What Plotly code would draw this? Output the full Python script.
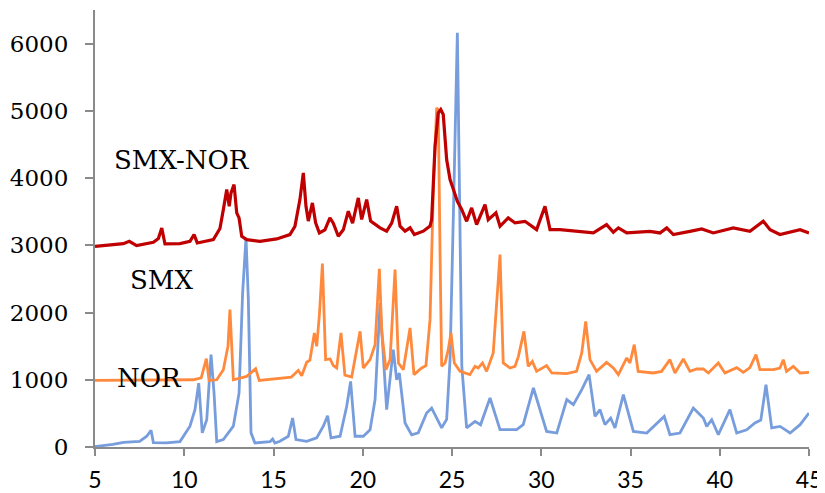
import plotly.graph_objects as go

# ---- data (2-theta, intensity) ----
nor_x = [5.0, 5.1, 6.0, 6.6, 7.5, 7.9, 8.14, 8.27, 9.0, 9.76, 10.32, 10.6, 10.81, 11.01, 11.26, 11.5,
         11.67, 11.82, 12.19, 12.75, 13.07, 13.27, 13.46, 13.59, 13.74, 13.96, 14.8, 14.95, 15.08,
         15.36, 15.83, 16.07, 16.26, 16.86, 17.42, 17.79, 18.03, 18.22, 18.73, 19.1, 19.32, 19.57,
         20.03, 20.41, 20.69, 20.97, 21.34, 21.53, 21.71, 21.9, 22.05, 22.37, 22.74, 23.11, 23.58,
         23.86, 24.14, 24.42, 24.7, 24.89, 25.08, 25.3, 25.55, 25.82, 26.29, 26.6, 27.13, 27.69,
         28.62, 28.99, 29.56, 30.3, 30.87, 31.43, 31.8, 32.27, 32.68, 33.01, 33.29, 33.57, 33.89,
         34.13, 34.6, 35.16, 35.91, 36.47, 36.89, 37.21, 37.77, 38.52, 39.08, 39.27, 39.55, 39.92,
         40.57, 40.95, 41.51, 41.97, 42.3, 42.59, 42.91, 43.38, 43.94, 44.5, 45.0]
nor_y = [10, 10, 40, 70, 85, 160, 250, 65, 60, 80, 310, 555, 950, 210, 405, 1373,
         800, 80, 110, 310, 800, 2290, 3110, 2200, 210, 60, 80, 120, 60,
         85, 160, 430, 110, 85, 135, 310, 465, 135, 160, 605, 975, 160,
         160, 255, 705, 2140, 555, 1000, 1448, 1000, 1100, 357, 180, 210, 505,
         580, 430, 285, 410, 1300, 3500, 6160, 1200, 283, 381, 330, 729, 257,
         257, 332, 878, 232, 208, 704, 629, 853, 1076, 455, 555, 332, 431,
         283, 778, 232, 208, 357, 455, 183, 208, 580, 431, 307, 406, 183,
         555, 208, 257, 357, 400, 927, 283, 307, 208, 332, 506]

smx_x = [5.0, 10.5, 10.95, 11.24, 11.39, 11.82, 12.19, 12.45, 12.56, 12.75, 13.5, 14.0, 14.2, 15.36,
         16.0, 16.39, 16.58, 16.86, 17.04, 17.29, 17.42, 17.57, 17.74, 17.92, 18.17, 18.35, 18.54,
         18.78, 19.0, 19.38, 19.85, 20.03, 20.41, 20.69, 20.93, 21.07, 21.3, 21.53, 21.81, 22.0,
         22.27, 22.65, 22.87, 23.3, 23.54, 23.77, 23.96, 24.14, 24.23, 24.33, 24.42, 24.61, 24.79,
         24.94, 25.13, 25.45, 26.0, 26.29, 26.47, 26.71, 26.94, 27.31, 27.69, 27.87, 28.25, 28.53,
         28.72, 29.03, 29.27, 29.5, 29.74, 30.3, 30.59, 31.42, 31.98, 32.27, 32.49, 32.73, 33.1,
         33.66, 34.04, 34.32, 34.79, 34.97, 35.21, 35.43, 36.27, 36.74, 37.21, 37.49, 37.96, 38.33,
         38.71, 39.08, 39.36, 39.92, 40.29, 40.95, 41.32, 41.69, 42.03, 42.25, 43.0, 43.37, 43.56,
         43.74, 44.12, 44.5, 45.0]
smx_y = [990, 1000, 1030, 1313, 990, 1000, 1150, 1500, 2043, 1000, 1050, 1165, 990, 1027,
         1040, 1140, 1060, 1260, 1290, 1696, 1497, 1960, 2727, 1300, 1310, 1210, 1175,
         1696, 1070, 1040, 1720, 1175, 1300, 1520, 2649, 1696, 1150, 1300, 2640, 1250,
         1150, 1771, 1076, 1175, 1210, 1894, 3878, 5044, 5019, 2887, 1200, 1250, 1448,
         1696, 1250, 1125, 1076, 1200, 1175, 1250, 1125, 1399, 2862, 1250, 1175, 1200,
         1348, 1720, 1200, 1274, 1125, 1210, 1101, 1091, 1125, 1399, 1869, 1299, 1125,
         1259, 1175, 1076, 1324, 1250, 1522, 1125, 1101, 1125, 1299, 1101, 1309, 1125,
         1160, 1160, 1101, 1250, 1101, 1180, 1110, 1180, 1373, 1150, 1150, 1175, 1299,
         1125, 1200, 1101, 1110]

mix_x = [5.0, 6.59, 6.92, 7.33, 8.27, 8.55, 8.74, 8.92, 9.76, 10.32, 10.55, 10.73, 11.63, 12.0,
         12.19, 12.38, 12.52, 12.62, 12.79, 12.94, 13.07, 13.22, 13.5, 14.24, 15.18, 15.92, 16.2,
         16.48, 16.67, 16.82, 16.95, 17.18, 17.36, 17.57, 17.88, 18.16, 18.35, 18.63, 18.91, 19.19,
         19.43, 19.75, 19.94, 20.22, 20.44, 20.69, 20.97, 21.34, 21.62, 21.9, 22.09, 22.37, 22.65,
         22.89, 23.39, 23.77, 23.86, 24.05, 24.23, 24.37, 24.51, 24.7, 24.89, 25.08, 25.3, 25.55,
         25.82, 26.1, 26.38, 26.85, 27.03, 27.46, 27.69, 28.15, 28.53, 29.09, 29.74, 30.21, 30.49,
         31.05, 32.17, 32.92, 33.66, 34.04, 34.32, 34.79, 36.09, 36.65, 37.03, 37.4, 38.33, 38.99,
         39.64, 40.76, 41.69, 42.44, 42.82, 43.37, 44.5, 45.0]
mix_y = [2985, 3025, 3059, 2995, 3045, 3100, 3258, 3020, 3025, 3059, 3159, 3035, 3085, 3250,
         3531, 3829, 3580, 3780, 3903, 3482, 3407, 3134, 3085, 3060, 3095, 3160, 3282,
         3680, 4077, 3580, 3360, 3630, 3335, 3184, 3230, 3407, 3330, 3134, 3230, 3506,
         3330, 3705, 3385, 3680, 3360, 3310, 3260, 3210, 3330, 3580, 3285, 3210, 3260,
         3160, 3210, 3285, 3382, 4473, 4970, 5020, 4945, 4275, 3977, 3829, 3655, 3530,
         3357, 3556, 3308, 3605, 3382, 3482, 3283, 3407, 3333, 3357, 3233, 3580, 3233,
         3233, 3208, 3184, 3308, 3195, 3259, 3184, 3208, 3184, 3259, 3160, 3208, 3244,
         3184, 3259, 3208, 3357, 3233, 3160, 3233, 3184]

labels = ["SMX-NOR", "SMX", "NOR"]
label_x = [9.87, 8.70, 8.03]
label_y = [4275, 2490, 1031]

x_ticks = [5, 10, 15, 20, 25, 30, 35, 40, 45]
y_ticks = [0, 1000, 2000, 3000, 4000, 5000, 6000]

fig = go.Figure()
fig.add_trace(go.Scatter(x=nor_x, y=nor_y, mode="lines", name="NOR",
                         line=dict(color="#779ddd", width=2.8)))
fig.add_trace(go.Scatter(x=smx_x, y=smx_y, mode="lines", name="SMX",
                         line=dict(color="#ff8a3d", width=2.8)))
fig.add_trace(go.Scatter(x=mix_x, y=mix_y, mode="lines", name="SMX-NOR",
                         line=dict(color="#c00000", width=3.2)))

for t, lx, ly in zip(labels, label_x, label_y):
    fig.add_annotation(x=lx, y=ly, text=t, showarrow=False, xref="x", yref="y",
                       xanchor="center", yanchor="middle",
                       font=dict(family="DejaVu Serif", size=26, color="#000000"))

axis_col = "#8a8a8a"
# page body has an 8px default margin, so the figure is sized/offset to compensate
fig.update_layout(
    width=817, height=485,
    margin=dict(l=87, r=16, t=2, b=46),
    paper_bgcolor="white", plot_bgcolor="white",
    showlegend=False,
    xaxis=dict(range=[5, 45], tickvals=x_ticks, ticktext=[str(v) for v in x_ticks],
               automargin=False,
               showgrid=False, zeroline=False, showline=True, linecolor=axis_col, linewidth=2,
               ticks="outside", ticklen=7, tickwidth=2, tickcolor=axis_col,
               tickfont=dict(family="Lato", size=23, color="#000000"),
               ticklabelstandoff=4),
    yaxis=dict(range=[0, 6500], tickvals=y_ticks, ticktext=[str(v) for v in y_ticks],
               automargin=False,
               showgrid=False, zeroline=False, showline=True, linecolor=axis_col, linewidth=2,
               ticks="outside", ticklen=8, tickwidth=2, tickcolor=axis_col,
               tickfont=dict(family="DejaVu Serif", size=23, color="#000000"),
               ticklabelstandoff=12),
)

fig.write_html("out.html")
